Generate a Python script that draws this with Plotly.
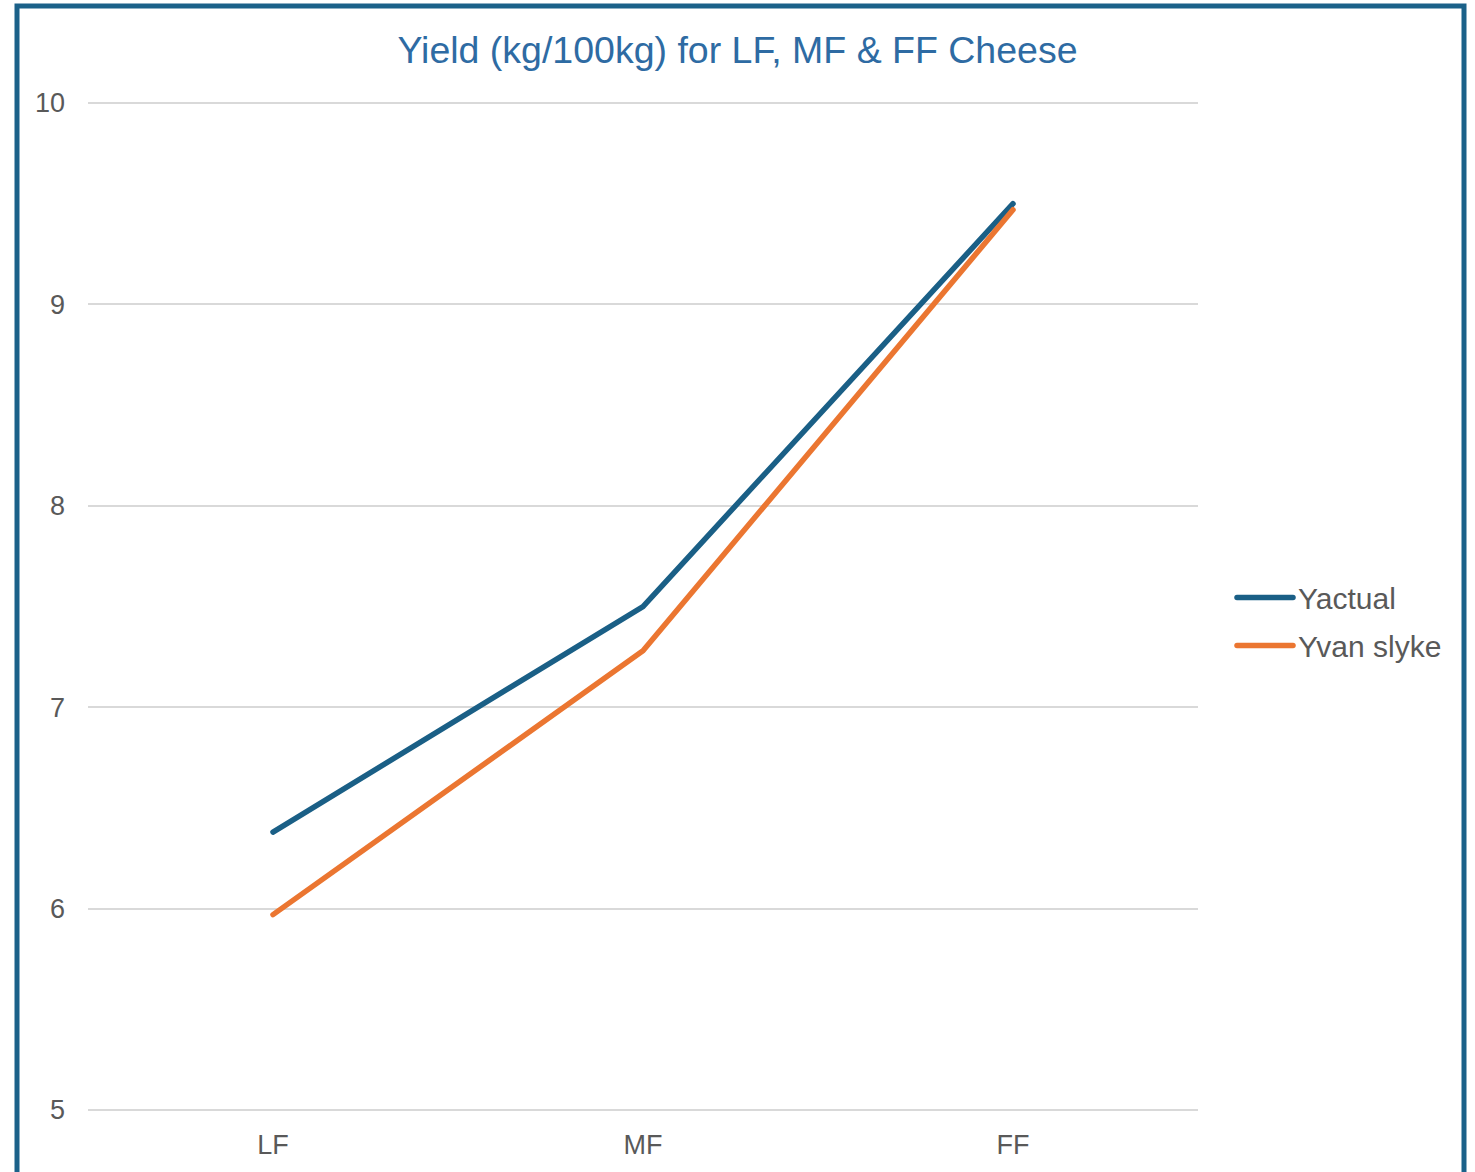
import plotly.graph_objects as go

categories = ["LF", "MF", "FF"]
y_actual = [6.38, 7.50, 9.50]
y_van_slyke = [5.97, 7.28, 9.47]
y_ticks = [5, 6, 7, 8, 9, 10]

W, H = 1475, 1172
PX_PER_UNIT = 202.5
Y_LO, Y_HI = 4.98, 10.02
L = 88
R = 1198
T = 103 - (Y_HI - 10) * PX_PER_UNIT
B = 1115 + (5 - Y_LO) * PX_PER_UNIT
pw, ph = R - L, B - T

fig = go.Figure()
fig.add_trace(go.Scatter(x=categories, y=y_actual, mode="lines", name="Yactual",
                         legendgroup="a",
                         line=dict(color="#1A5F86", width=5.5)))
fig.add_trace(go.Scatter(x=categories, y=y_van_slyke, mode="lines", name="Yvan slyke",
                         legendgroup="b",
                         line=dict(color="#EB7631", width=5.5)))

font_family = "Liberation Sans, Arial, sans-serif"
fig.update_layout(
    width=W, height=H,
    margin=dict(l=L, r=W - R, t=T, b=H - B, pad=0),
    paper_bgcolor="white", plot_bgcolor="white",
    font=dict(family=font_family, color="#595959", size=27),
    title=dict(text="Yield (kg/100kg) for LF, MF & FF Cheese", x=0.5, xanchor="center",
               y=1 - 50 / H, yanchor="middle",
               font=dict(family=font_family, size=37.5, color="#2E6BA3")),
    xaxis=dict(type="category", range=[-0.5, 2.5], showgrid=False, zeroline=False,
               showline=False, ticks="", ticklabelstandoff=12,
               tickfont=dict(size=27, color="#595959")),
    yaxis=dict(range=[Y_LO, Y_HI], tickvals=y_ticks, showgrid=True, gridcolor="#D9D9D9",
               gridwidth=1.5, zeroline=False, showline=False, ticks="",
               ticklabelstandoff=22, tickfont=dict(size=27, color="#595959")),
    legend=dict(x=(1232 - L) / pw, y=(B - 624) / ph, xanchor="left",
                yanchor="middle", traceorder="grouped", tracegroupgap=6,
                font=dict(size=30, color="#595959"), itemwidth=56,
                bgcolor="rgba(0,0,0,0)"),
    showlegend=True,
)

# chart border
fig.add_shape(type="rect", xref="paper", yref="paper",
              x0=(17 - L) / pw, x1=(1464 - L) / pw,
              y0=(B - 1190) / ph, y1=(B - 5.5) / ph,
              line=dict(color="#1B6189", width=5), fillcolor="rgba(0,0,0,0)", layer="above")

post = """
document.body.style.margin = '0';
function rc(){
  document.querySelectorAll('.scatterlayer path.js-line, .legendlines path').forEach(function(p){
    p.style.strokeLinecap = 'round';
  });
}
rc();
var gd = document.getElementById('{plot_id}');
if (gd && gd.on) { gd.on('plotly_afterplot', rc); }
"""

fig.write_html("out.html", post_script=post, config={"displayModeBar": False})
